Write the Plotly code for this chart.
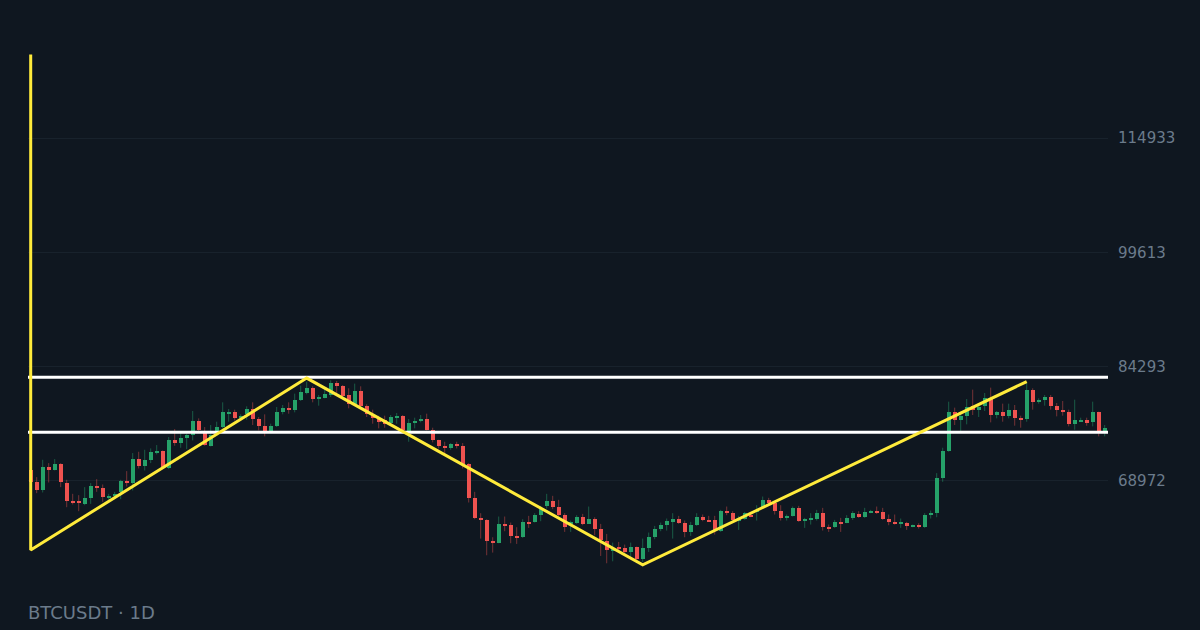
import plotly.graph_objects as go

# ---------------- data ----------------
opens = [70450, 68748, 67762, 70808, 70450, 71256, 68658, 66284, 66239, 65880,
         66687, 68210, 68031, 66687, 66956, 67404, 68927, 68658, 71884, 70898,
         71704, 72780, 72959, 70629, 74392, 74034, 74751, 75109, 76991, 75468,
         73676, 75378, 76184, 78066, 78156, 77528, 77887, 78604, 77260, 76274,
         75647, 76274, 78156, 78693, 78514, 79768, 80754, 81471, 79948, 80127,
         80485, 82098, 81740, 80485, 79231, 81023, 79052, 77797, 77260, 77080,
         76722, 77349, 77618, 75557, 76722, 76991, 77260, 75826, 74392, 73586,
         73317, 73855, 73586, 71256, 66687, 63999, 63730, 60863, 60684, 63192,
         63013, 61580, 61400, 63461, 63461, 64357, 65612, 66239, 65522, 64357,
         63192, 63372, 64178, 63192, 63909, 62565, 60952, 59608, 60056, 59967,
         59429, 60056, 58444, 59967, 61490, 62476, 63013, 63461, 63909, 63282,
         62117, 63103, 64088, 63730, 63730, 62296, 64895, 64626, 63640, 63820,
         64447, 64805, 65522, 66418, 65970, 64984, 64088, 64268, 65343, 63640,
         63730, 63909, 64716, 62834, 62744, 63461, 63372, 63999, 64536, 64178,
         64716, 64895, 64805, 63909, 63461, 63192, 63372, 62834, 63013, 62834,
         64447, 64626, 69285, 72959, 78245, 77080, 77708, 78962, 78514, 78962,
         80037, 77797, 78156, 77618, 78514, 77349, 77260, 81202, 79500, 79768,
         80216, 79052, 78424, 78245, 76543, 76991, 77170, 76812, 78156, 75557]
highs = [70629, 69464, 71794, 71346, 71884, 71346, 69106, 67224, 67045, 68120,
         68658, 69196, 68479, 67224, 67493, 69106, 70271, 72690, 72869, 73138,
         73317, 73765, 73048, 74840, 75916, 75378, 75288, 78335, 77349, 76184,
         76453, 76901, 79500, 78604, 78514, 77887, 78962, 79500, 77528, 77887,
         76632, 78872, 79141, 79500, 80664, 81740, 82277, 81650, 80485, 81202,
         82456, 82367, 81829, 81381, 82008, 81650, 79231, 78514, 77708, 77708,
         77797, 78066, 77797, 77260, 77439, 77797, 77976, 76095, 74482, 74213,
         74034, 74213, 74034, 71346, 67493, 64626, 63820, 61400, 64178, 64178,
         63372, 62744, 63820, 64268, 64626, 65612, 67224, 66956, 66418, 64626,
         63640, 64357, 64536, 65522, 64088, 63192, 61848, 60684, 60773, 60415,
         60684, 60146, 61221, 62028, 62924, 63372, 63909, 64626, 64268, 63640,
         63461, 64626, 64447, 64268, 64268, 65074, 65522, 64895, 64268, 64805,
         64626, 65701, 66866, 66687, 66239, 65701, 64447, 65522, 65612, 63999,
         64626, 65074, 65343, 63103, 63730, 63999, 64357, 64895, 64895, 65343,
         65074, 65522, 65343, 64447, 64447, 63909, 63461, 63103, 63282, 64626,
         64984, 70002, 73407, 79589, 78783, 78245, 79948, 81202, 79141, 80754,
         81471, 78335, 79320, 79320, 79141, 77708, 82188, 81381, 80037, 80485,
         80485, 79410, 79679, 78514, 79858, 77439, 77439, 79589, 78245, 76453]
lows = [68568, 67314, 67404, 68748, 70360, 68120, 65432, 65791, 64895, 65701,
        65880, 67493, 66149, 66418, 66687, 66508, 68210, 67672, 70629, 70360,
        71346, 72511, 70540, 70540, 73676, 73407, 73228, 74392, 75378, 73676,
        73586, 75020, 76005, 76901, 77080, 77170, 77170, 76453, 75736, 74930,
        75378, 76184, 77887, 77976, 78156, 79679, 80575, 79500, 79052, 80037,
        80216, 80754, 80127, 78693, 79052, 78962, 77528, 76632, 76005, 76095,
        76632, 76632, 75557, 74213, 76005, 76812, 75736, 74124, 73317, 72600,
        73138, 73317, 70629, 66060, 63820, 61221, 58981, 59340, 60594, 62207,
        60594, 60504, 61311, 62655, 63372, 63551, 65253, 65164, 64178, 62117,
        62117, 63192, 63013, 63192, 61669, 58892, 57906, 58175, 59340, 59160,
        58802, 58354, 58085, 59429, 61132, 62207, 62296, 61221, 63192, 61400,
        61580, 62924, 63551, 63461, 61759, 62117, 64357, 63640, 62386, 63730,
        64088, 63640, 65432, 65791, 64447, 63640, 63640, 64178, 63461, 62655,
        63103, 63640, 62296, 62117, 62655, 62117, 63282, 63730, 63999, 63999,
        64626, 64536, 63730, 63013, 63103, 62655, 62386, 62744, 62565, 62655,
        63909, 64088, 68837, 72869, 76453, 75647, 76543, 77797, 77528, 78335,
        76812, 77349, 76901, 77349, 76364, 76095, 76901, 78514, 79320, 79052,
        78514, 77618, 77708, 76274, 75826, 76901, 76364, 76274, 74930, 74930]
closes = [68748, 67762, 70808, 70540, 71256, 68748, 66328, 66060, 65970, 66687,
          68210, 67941, 66866, 66956, 67224, 68927, 68748, 71884, 70988, 71704,
          72869, 72959, 70808, 74392, 74034, 74751, 75109, 76991, 75736, 73765,
          75154, 76184, 78156, 78245, 77349, 77708, 78604, 77260, 76274, 75647,
          76274, 78156, 78693, 78424, 79768, 80844, 81381, 79948, 80127, 80664,
          82098, 81650, 80306, 79231, 81023, 79052, 77976, 77349, 76901, 76632,
          77528, 77618, 75736, 76722, 76991, 77260, 75826, 74392, 73586, 73317,
          73855, 73586, 71256, 66687, 63999, 63730, 60952, 60684, 63192, 62924,
          61580, 61400, 63461, 63282, 64357, 65164, 66239, 65522, 64357, 62834,
          63461, 64178, 63192, 63909, 62565, 61042, 59698, 59788, 59788, 59429,
          60056, 58444, 59967, 61490, 62476, 63103, 63640, 63909, 63282, 62117,
          63103, 64088, 63730, 63551, 62386, 64895, 64626, 63730, 63820, 64716,
          64178, 65074, 66418, 65970, 64984, 63999, 64268, 65343, 63551, 63820,
          63909, 64716, 62834, 62565, 63461, 63282, 63999, 64626, 64178, 64805,
          64895, 64626, 63909, 63461, 63192, 63372, 62924, 63013, 62834, 64447,
          64626, 69285, 72959, 78245, 77080, 77708, 78872, 78514, 78872, 80127,
          77797, 78156, 77618, 78514, 77349, 77170, 81202, 79589, 79768, 80216,
          79052, 78424, 78245, 76543, 77170, 77170, 76722, 78156, 75557, 76095]

# zigzag (candle index, price) and horizontal levels
zigzag_idx = [0, 0, 46, 102, 166]
zigzag_price = [126150, 59700, 82750, 57700, 82280]
levels = [82880, 75490]

tick_vals = [68972, 84293, 99613, 114933]
tick_text = ["68972", "84293", "99613", "114933"]
y_range = [53652, 130254]
symbol_label = "BTCUSDT · 1D"

# ---------------- styling ----------------
BG = "#0f1720"
UP = "#26a269"
DOWN = "#ef5350"
UP_WICK = "rgba(38,162,105,0.5)"
DOWN_WICK = "rgba(239,83,80,0.45)"
TXT = "#6b7b8b"

n = len(opens)
idx = list(range(n))
min_body = 180

fig = go.Figure()

# wicks
for up, col in ((True, UP_WICK), (False, DOWN_WICK)):
    xs, ys = [], []
    for i in idx:
        if (closes[i] >= opens[i]) == up:
            xs += [i, i, None]
            ys += [lows[i], highs[i], None]
    fig.add_trace(go.Scatter(x=xs, y=ys, mode="lines",
                             line=dict(color=col, width=1),
                             hoverinfo="skip", showlegend=False))

# bodies
bases, heights, colors = [], [], []
for i in idx:
    lo = min(opens[i], closes[i])
    h = abs(closes[i] - opens[i])
    if h < min_body:
        lo = (opens[i] + closes[i]) / 2 - min_body / 2
        h = min_body
    bases.append(lo)
    heights.append(h)
    colors.append(UP if closes[i] >= opens[i] else DOWN)
fig.add_trace(go.Bar(x=idx, y=heights, base=bases, width=0.67,
                     marker=dict(color=colors, line=dict(width=0)),
                     hoverinfo="skip", showlegend=False))

# white horizontal levels
for lv in levels:
    fig.add_trace(go.Scatter(x=[-0.45, n - 0.45], y=[lv, lv], mode="lines",
                             line=dict(color="#ffffff", width=3),
                             hoverinfo="skip", showlegend=False))

# yellow zigzag
fig.add_trace(go.Scatter(x=zigzag_idx, y=zigzag_price, mode="lines",
                         line=dict(color="#ffeb3b", width=3),
                         hoverinfo="skip", showlegend=False))

fig.add_annotation(text=symbol_label, xref="paper", yref="paper",
                   x=-0.002, y=-0.0298, xanchor="left", yanchor="middle",
                   showarrow=False,
                   font=dict(family="DejaVu Sans", size=18, color=TXT))

fig.update_layout(
    width=1200, height=630,
    margin=dict(l=28, r=92, t=24, b=35),
    paper_bgcolor=BG, plot_bgcolor=BG,
    barmode="overlay", bargap=0,
    showlegend=False,
    xaxis=dict(range=[-0.45, n - 0.45], visible=False, showgrid=False,
               zeroline=False, fixedrange=True),
    yaxis=dict(range=y_range, side="right", tickvals=tick_vals,
               ticktext=tick_text, showgrid=True, gridcolor="#18222c",
               gridwidth=1, zeroline=False, showline=False, ticks="",
               ticklabelstandoff=9,
               tickfont=dict(family="DejaVu Sans", size=15, color=TXT)),
)

fig.write_html(
    "out.html",
    config={"displayModeBar": False},
    post_script="document.body.style.margin='0';document.body.style.background='" + BG + "';",
)
